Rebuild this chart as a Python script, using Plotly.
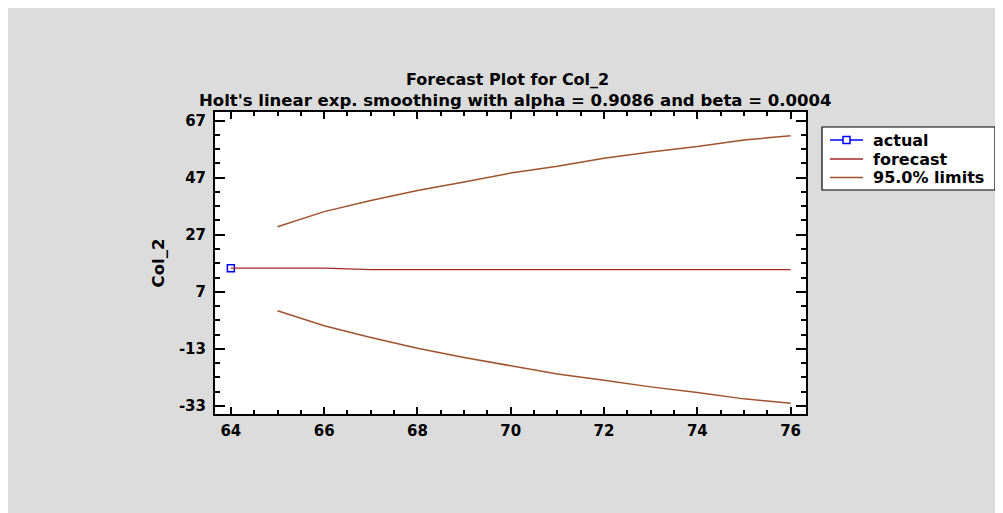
import plotly.graph_objects as go

# Data
actual_x = [64]
actual_y = [15.3]
forecast_x = [64, 65, 66, 67, 68, 69, 70, 71, 72, 73, 74, 75, 76]
forecast_y = [15.3, 15.3, 15.3, 14.8, 14.8, 14.8, 14.8, 14.8, 14.8, 14.8, 14.8, 14.8, 14.8]
limit_x = [65, 66, 67, 68, 69, 70, 71, 72, 73, 74, 75, 76]
upper_y = [29.8, 35.1, 39.0, 42.5, 45.5, 48.6, 51.0, 53.8, 56.0, 57.9, 60.2, 61.7]
lower_y = [0.4, -4.9, -9.0, -12.8, -16.0, -18.9, -21.8, -24.0, -26.3, -28.3, -30.5, -32.0]
legend_labels = ["actual", "forecast", "95.0% limits"]
x_tickvals = [64, 66, 68, 70, 72, 74, 76]
y_tickvals = [-33, -13, 7, 27, 47, 67]
y_ticktext = ["-33", "-13", "7", "27", "47", "67"]

FONT = "DejaVu Sans, Verdana, sans-serif"
C_ACTUAL = "#0000FF"
C_FORECAST = "#A52A2A"
C_LIMITS = "#A0522D"

# page offset (body margin) and figure size
OFF = 8
W, H = 1003 - OFF, 513 - OFF
PL, PR, PT, PB = 215, 806, 112, 414  # plot area in page pixels
L, R, T, B = PL - OFF, W - (PR - OFF), PT - OFF, H - (PB - OFF)
pw, ph = W - L - R, H - T - B

def xp(px):
    return (px - OFF - L) / pw

def yp(py):
    return (H - B - (py - OFF)) / ph

fig = go.Figure()
fig.add_trace(go.Scatter(x=actual_x, y=actual_y, mode="lines+markers", name=legend_labels[0],
                         line=dict(color=C_ACTUAL, width=1.5),
                         marker=dict(symbol="square-open", size=7, color=C_ACTUAL, line=dict(width=1.5))))
fig.add_trace(go.Scatter(x=forecast_x, y=forecast_y, mode="lines", name=legend_labels[1],
                         line=dict(color=C_FORECAST, width=1.3)))
fig.add_trace(go.Scatter(x=limit_x, y=upper_y, mode="lines", name=legend_labels[2],
                         line=dict(color=C_LIMITS, width=1.5)))
fig.add_trace(go.Scatter(x=limit_x, y=lower_y, mode="lines", name="lower",
                         line=dict(color=C_LIMITS, width=1.5)))

tickfont = dict(family=FONT, size=15, color="black", weight="bold")
axis_common = dict(showline=True, linecolor="black", linewidth=2, mirror="allticks",
                   ticks="inside", tickwidth=2, tickcolor="black",
                   showgrid=False, zeroline=False, tickfont=tickfont)

fig.update_xaxes(range=[63.66, 76.33], tickmode="array", tickvals=x_tickvals,
                 ticklen=7, ticklabelstandoff=2,
                 minor=dict(ticks="inside", ticklen=4, tickwidth=1.5, tickcolor="black",
                            dtick=0.5, tick0=64, showgrid=False),
                 **axis_common)
fig.update_yaxes(range=[-35.8, 70.0], tickmode="array", tickvals=y_tickvals, ticktext=y_ticktext,
                 ticklen=10, ticklabelstandoff=4,
                 minor=dict(ticks="inside", ticklen=5, tickwidth=1.5, tickcolor="black",
                            dtick=5, tick0=-33, showgrid=False),
                 title=dict(text="Col_2", font=dict(family=FONT, size=16.5, color="black", weight="bold"),
                            standoff=10),
                 **axis_common)

annotations = [
    dict(text="<b>Forecast Plot for Col_2</b>", xref="paper", yref="paper",
         x=xp(507), y=yp(80), xanchor="center", yanchor="middle",
         showarrow=False, font=dict(family=FONT, size=16, color="black")),
    dict(text="<b>Holt's linear exp. smoothing with alpha = 0.9086 and beta = 0.0004</b>",
         xref="paper", yref="paper",
         x=xp(515), y=yp(101), xanchor="center", yanchor="middle",
         showarrow=False, font=dict(family=FONT, size=16.5, color="black")),
]

# manual legend box (matches reference compact spacing)
shapes = [dict(type="rect", xref="paper", yref="paper", x0=xp(822), x1=xp(995), y0=yp(190), y1=yp(127),
               fillcolor="white", line=dict(color="black", width=1.2), layer="above")]
row_y = [140, 159, 177.5]
row_col = [C_ACTUAL, C_FORECAST, C_LIMITS]
for lab, ry, col in zip(legend_labels, row_y, row_col):
    shapes.append(dict(type="line", xref="paper", yref="paper", x0=xp(830), x1=xp(863),
                       y0=yp(ry), y1=yp(ry), line=dict(color=col, width=1.5), layer="above"))
    annotations.append(dict(text="<b>" + lab + "</b>", xref="paper", yref="paper",
                            x=xp(871), y=yp(ry), xanchor="left", yanchor="middle", showarrow=False,
                            font=dict(family=FONT, size=16, color="black")))
shapes.append(dict(type="rect", xref="paper", yref="paper", x0=xp(843), x1=xp(850),
                   y0=yp(row_y[0] + 3.5), y1=yp(row_y[0] - 3.5),
                   fillcolor="white", line=dict(color=C_ACTUAL, width=1.5), layer="above"))

fig.update_layout(
    width=W, height=H,
    margin=dict(l=L, r=R, t=T, b=B, autoexpand=False),
    paper_bgcolor="#DCDCDC", plot_bgcolor="white",
    showlegend=False,
    annotations=annotations,
    shapes=shapes,
)

fig.write_html("out.html")
